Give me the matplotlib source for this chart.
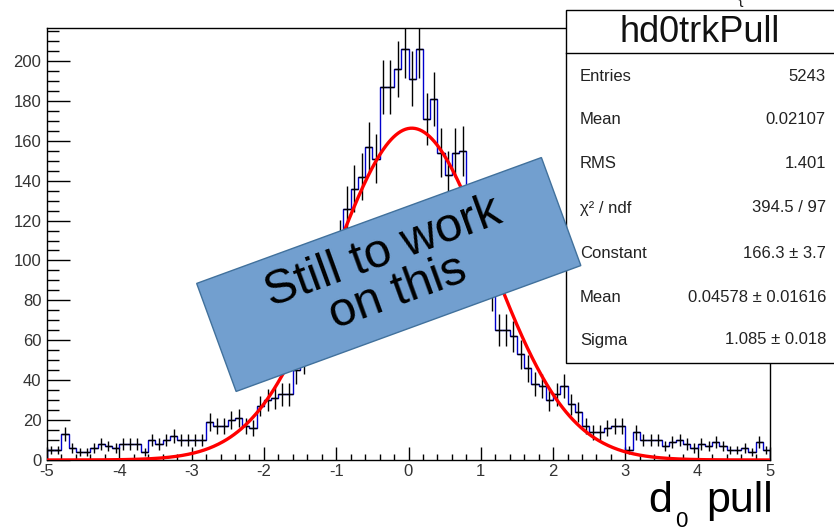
import numpy as np
import matplotlib
matplotlib.use('Agg')
import matplotlib.pyplot as plt
from matplotlib.patches import Rectangle
from matplotlib.ticker import MultipleLocator

plt.rcParams['font.family'] = ['Liberation Sans', 'DejaVu Sans']
plt.rcParams['axes.unicode_minus'] = False

# histogram hd0trkPull: 100 bins from -5 to 5
x_min, x_max, n_bins = -5.0, 5.0, 100
counts = [5, 5, 13, 6, 4, 4, 6, 8, 7, 6,
          8, 8, 8, 4, 10, 8, 10, 12, 10, 10,
          10, 10, 19, 17, 17, 20, 21, 17, 16, 27,
          30, 31, 33, 33, 45, 50, 58, 68, 82, 96,
          110, 126, 136, 142, 157, 151, 187, 187, 196, 206,
          191, 206, 171, 181, 154, 143, 154, 155, 120, 104,
          92, 84, 65, 65, 62, 53, 46, 38, 37, 30,
          33, 37, 28, 24, 17, 14, 14, 16, 17, 17,
          5, 14, 10, 10, 10, 7, 9, 10, 8, 6,
          8, 7, 9, 7, 5, 5, 6, 4, 9, 5]

# gaussian fit parameters (from the stats box)
fit_const = 166.3
fit_mean = 0.04578
fit_sigma = 1.085

stat_labels = ['Entries', 'Mean', 'RMS', 'χ² / ndf', 'Constant', 'Mean', 'Sigma']
stat_values = ['5243', '0.02107', '1.401', '394.5 / 97', '166.3 ± 3.7',
               '0.04578 ± 0.01616', '1.085 ± 0.018']

counts = np.array(counts, dtype=float)
edges = np.linspace(x_min, x_max, n_bins + 1)
centers = 0.5 * (edges[:-1] + edges[1:])
half_w = 0.5 * (edges[1] - edges[0])

W, H = 834, 531
fig = plt.figure(figsize=(W / 100, H / 100), dpi=100, facecolor='white')
ax = fig.add_axes([47 / W, 1 - 460 / H, (770 - 47) / W, (460 - 28) / H])

ax.stairs(counts, edges, color='#0000cc', linewidth=1.0, zorder=2)
ax.errorbar(centers, counts, xerr=half_w, yerr=np.sqrt(counts), fmt='none',
            ecolor='black', elinewidth=1.0, capsize=0, zorder=3)
xf = np.linspace(x_min, x_max, 600)
ax.plot(xf, fit_const * np.exp(-0.5 * ((xf - fit_mean) / fit_sigma) ** 2),
        color='red', linewidth=2.4, zorder=4)

ax.set_xlim(x_min, x_max)
ax.set_ylim(0, 216.5)
ax.xaxis.set_major_locator(MultipleLocator(1))
ax.xaxis.set_minor_locator(MultipleLocator(0.2))
ax.yaxis.set_major_locator(MultipleLocator(20))
ax.yaxis.set_minor_locator(MultipleLocator(5))
ax.tick_params(which='both', direction='in', top=False, right=False,
               labelsize=12, labelcolor='#333333', width=1)
ax.tick_params(axis='y', which='major', length=16.5, pad=4)
ax.tick_params(axis='y', which='minor', length=8.5)
ax.tick_params(axis='x', which='major', length=9.5, pad=3)
ax.tick_params(axis='x', which='minor', length=4.5)
for sp in ax.spines.values():
    sp.set_linewidth(1.0)
    sp.set_color('black')

# overlay in pixel coords for the stats box, sticker and x label
ov = fig.add_axes([0, 0, 1, 1])
ov.set_xlim(0, W)
ov.set_ylim(H, 0)
ov.axis('off')
ov.patch.set_alpha(0)

ov.add_patch(Rectangle((566, 10), 300, 353, facecolor='white', edgecolor='black', linewidth=1.0))
ov.plot([566, 900], [52.7, 52.7], color='black', linewidth=1.0)
ov.text(700, 32, 'hd0trkPull', ha='center', va='center', fontsize=26, color='#111111')
row_y = [76.7, 120, 163, 208, 253, 297, 340]
for yy, lab, val in zip(row_y, stat_labels, stat_values):
    ov.text(580, yy, lab, ha='left', va='center', fontsize=12, color='#222222')
    ov.text(826, yy, val, ha='right', va='center', fontsize=12, color='#222222')
ov.text(741, 4, '{', ha='center', va='baseline', fontsize=12, color='#222222')

# "Still to work on this" sticker
cx, cy, bw, bh = 388.75, 274.5, 367, 115
ov.add_patch(Rectangle((cx - bw / 2, cy - bh / 2), bw, bh, angle=-20.06,
                       rotation_point='center', facecolor='#729fcf',
                       edgecolor='#41719c', linewidth=1.0, zorder=5))
ov.text(cx + 2, cy - 2, 'Still to work\non this', rotation=20.06, rotation_mode='anchor',
        ha='center', va='center', multialignment='center', fontsize=35,
        linespacing=0.92, color='black', zorder=6)

# axis title
ov.text(648, 512, 'd', ha='left', va='baseline', fontsize=31)
ov.text(675, 527, '0', ha='left', va='baseline', fontsize=16)
ov.text(706, 512, 'pull', ha='left', va='baseline', fontsize=31)

fig.savefig('out.png', dpi=100, facecolor='white')
